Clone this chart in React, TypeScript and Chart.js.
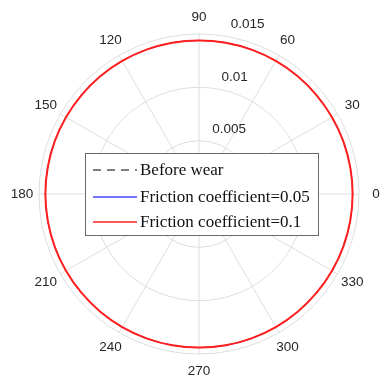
import { useEffect, useRef } from 'react';
import { Chart, registerables } from 'chart.js';

Chart.register(...registerables);

// Polar angles (degrees, counter-clockwise from the +x axis), one sample every 10 degrees
const thetaDeg = [0, 10, 20, 30, 40, 50, 60, 70, 80, 90, 100, 110, 120, 130, 140, 150, 160, 170,
  180, 190, 200, 210, 220, 230, 240, 250, 260, 270, 280, 290, 300, 310, 320, 330, 340, 350];

// Radius at each angle
const beforeWear = [0.0144, 0.0144, 0.0144, 0.0144, 0.0144, 0.0144, 0.0144, 0.0144, 0.0144,
  0.0144, 0.0144, 0.0144, 0.0144, 0.0144, 0.0144, 0.0144, 0.0144, 0.0144,
  0.0144, 0.0144, 0.0144, 0.0144, 0.0144, 0.0144, 0.0144, 0.0144, 0.0144,
  0.0144, 0.0144, 0.0144, 0.0144, 0.0144, 0.0144, 0.0144, 0.0144, 0.0144];
const friction005 = [0.0144, 0.0144, 0.0144, 0.0144, 0.0144, 0.0144, 0.0144, 0.0144, 0.0144,
  0.0144, 0.0144, 0.0144, 0.0144, 0.0144, 0.0144, 0.0144, 0.0144, 0.0144,
  0.0144, 0.0144, 0.0144, 0.0144, 0.0144, 0.0144, 0.0144, 0.0144, 0.0144,
  0.0144, 0.0144, 0.0144, 0.0144, 0.0144, 0.0144, 0.0144, 0.0144, 0.0144];
const friction01 = [0.0144, 0.0144, 0.0144, 0.0144, 0.0144, 0.0144, 0.0144, 0.0144, 0.0144,
  0.0144, 0.0144, 0.0144, 0.0144, 0.0144, 0.0144, 0.0144, 0.0144, 0.0144,
  0.0144, 0.0144, 0.0144, 0.0144, 0.0144, 0.0144, 0.0144, 0.0144, 0.0144,
  0.0144, 0.0144, 0.0144, 0.0144, 0.0144, 0.0144, 0.0144, 0.0144, 0.0144];

// Labelled angle ticks and radial ticks
const thetaTicks = [0, 30, 60, 90, 120, 150, 180, 210, 240, 270, 300, 330];
const rTicks = [0.005, 0.01, 0.015];
const rTickLabels = ['0.005', '0.01', '0.015'];
const rMax = 0.015;
const rAxisAngle = 80;

const seriesLabels = ['Before wear', 'Friction coefficient=0.05', 'Friction coefficient=0.1'];

const GRID = '#dedede';
const N = thetaDeg.length;
const STEP = 360 / N;

// The radar scale runs clockwise; map a CCW angle to its slot on the scale
const slotOf = (theta: number) => (N - Math.round(theta / STEP)) % N;
const thetaOfSlot = (slot: number) => (slot === 0 ? 0 : 360 - slot * STEP);
const toSlots = (values: number[]) =>
  thetaDeg.map((_, slot) => values[thetaDeg.indexOf(thetaOfSlot(slot))]);

const polarDecor = {
  id: 'polarDecor',
  afterDraw(chart: any) {
    const { ctx } = chart;
    const scale = chart.scales.r;

    ctx.save();
    // angle tick labels
    ctx.fillStyle = '#262626';
    ctx.font = '13.5px "Liberation Sans", Arial, sans-serif';
    ctx.textAlign = 'center';
    ctx.textBaseline = 'middle';
    thetaTicks.forEach((t) => {
      const p = scale.getPointPosition(slotOf(t), scale.drawingArea + 17);
      ctx.fillText(String(t), p.x, p.y);
    });

    // radial tick labels along the r-axis
    ctx.textAlign = 'left';
    rTicks.forEach((v, i) => {
      const p = scale.getPointPositionForValue(slotOf(rAxisAngle), v);
      ctx.fillText(rTickLabels[i], p.x + 4, p.y - 12);
    });

    // legend
    const bx = 85.5, by = 153.5, bw = 233, bh = 82;
    ctx.fillStyle = '#ffffff';
    ctx.fillRect(bx, by, bw, bh);
    ctx.strokeStyle = '#6a6a6a';
    ctx.lineWidth = 1;
    ctx.strokeRect(bx, by, bw, bh);
    const rows = [170, 197, 222];
    ctx.font = '17px "Liberation Serif", "Times New Roman", serif';
    ctx.textBaseline = 'middle';
    chart.data.datasets.forEach((ds: any, i: number) => {
      const y = rows[i];
      ctx.save();
      ctx.strokeStyle = ds.borderColor;
      ctx.lineWidth = 1.5;
      ctx.setLineDash(ds.borderDash || []);
      ctx.beginPath();
      ctx.moveTo(93, y);
      ctx.lineTo(137, y);
      ctx.stroke();
      ctx.restore();
      ctx.fillStyle = '#111111';
      ctx.fillText(ds.label, 140, y + 1);
    });
    ctx.restore();
  },
};

export default function App() {
  const canvasRef = useRef<HTMLCanvasElement | null>(null);

  useEffect(() => {
    const canvas = canvasRef.current;
    if (!canvas) return;
    const chart = new Chart(canvas, {
      type: 'radar',
      data: {
        labels: thetaDeg.map((_, slot) => String(thetaOfSlot(slot))),
        datasets: [
          {
            label: seriesLabels[0],
            data: toSlots(beforeWear),
            borderColor: '#555555',
            borderWidth: 1,
            borderDash: [8, 6],
            order: 2,
          },
          {
            label: seriesLabels[1],
            data: toSlots(friction005),
            borderColor: '#4646ff',
            borderWidth: 1,
            order: 1,
          },
          {
            label: seriesLabels[2],
            data: toSlots(friction01),
            borderColor: '#ff1f1f',
            borderWidth: 2,
            order: 0,
          },
        ].map((d) => ({ ...d, fill: false, pointRadius: 0, pointHitRadius: 0, tension: 0.335 })),
      },
      options: {
        responsive: false,
        animation: false,
        layout: { padding: { left: 39, right: 21, top: 33.5, bottom: 28.5 } },
        plugins: { legend: { display: false }, tooltip: { enabled: false } },
        scales: {
          r: {
            startAngle: 90,
            min: 0,
            max: rMax,
            ticks: { display: false, stepSize: 0.005 },
            pointLabels: { display: false },
            grid: { circular: true, color: GRID, lineWidth: 1 },
            angleLines: {
              display: true,
              color: GRID,
              lineWidth: (c: any) => (thetaOfSlot(c.index) % 30 === 0 ? 1 : 0),
            },
          },
        },
      },
      plugins: [polarDecor],
    });
    return () => chart.destroy();
  }, []);

  return (
    <div style={{ position: 'fixed', left: 0, top: 0, width: 381, height: 383, background: '#fff' }}>
      <canvas ref={canvasRef} width={381} height={383} />
    </div>
  );
}
